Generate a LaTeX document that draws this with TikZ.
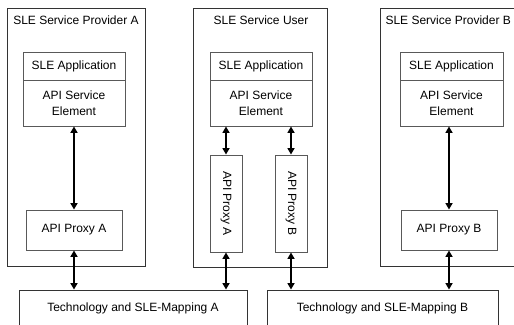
\documentclass[tikz,border=0pt]{standalone}
\usepackage{fontspec}
\setmainfont{Liberation Sans}
\usetikzlibrary{arrows.meta}

\begin{document}
\begin{tikzpicture}[x=1pt,y=-1pt,
  every node/.style={font=\fontsize{12}{16}\selectfont},
  frame/.style={draw=black!80,line width=0.9pt,inner sep=0pt},
  box/.style={draw=black!65,line width=0.9pt,inner sep=0pt,align=center},
  link/.style={line width=1.9pt,{Triangle[length=6.5pt,width=7pt]}-{Triangle[length=6.5pt,width=7pt]}}]
\useasboundingbox (0,0) rectangle (514,324);
\clip (0,0) rectangle (514,324);
% outer frames
\node[frame,minimum width=138,minimum height=258] (provA) at (76,137) {};
\node[frame,minimum width=134,minimum height=259] (user) at (260,137.5) {};
\node[frame,minimum width=140,minimum height=258] (provB) at (450,137) {};
\node (tA) at (76,20) {SLE Service Provider A};
\node (tU) at (261,20) {SLE Service User};
\node[anchor=west] (tB) at (382,20) {SLE Service Provider B};
% applications
\node[box,minimum width=102,minimum height=28] (appA) at (74,66) {SLE Application};
\node[box,minimum width=102,minimum height=46] (aseA) at (74,103) {API Service\\Element};
\node[box,minimum width=102,minimum height=28] (appU) at (261,66) {SLE Application};
\node[box,minimum width=102,minimum height=46] (aseU) at (261,103) {API Service\\Element};
\node[box,minimum width=103,minimum height=28] (appB) at (451.5,66) {SLE Application};
\node[box,minimum width=103,minimum height=46] (aseB) at (451.5,103) {API Service\\Element};
% proxies
\node[box,minimum width=96,minimum height=40] (pxA) at (74,230) {API Proxy A};
\node[box,minimum width=96,minimum height=40] (pxB) at (449,230) {API Proxy B};
\node[box,minimum width=32,minimum height=97] (pxUA) at (226,203.5) {\rotatebox{-90}{API Proxy A}};
\node[box,minimum width=32,minimum height=97] (pxUB) at (291,203.5) {\rotatebox{-90}{API Proxy B}};
% mappings
\node[frame,minimum width=228,minimum height=36] (mapA) at (133,308) {Technology and SLE-Mapping A};
\node[frame,minimum width=231,minimum height=36] (mapB) at (382.5,308) {Technology and SLE-Mapping B};
% links
\draw[link] (aseA) -- (pxA);
\draw[link] (pxB.north |- aseB.south) -- (pxB.north);
\draw[link] (pxUA.north |- aseU.south) -- (pxUA.north);
\draw[link] (pxUB.north |- aseU.south) -- (pxUB.north);
\draw[link] (pxA.south) -- (pxA.south |- mapA.north);
\draw[link] (pxUA.south) -- (pxUA.south |- mapA.north);
\draw[link] (pxUB.south) -- (pxUB.south |- mapB.north);
\draw[link] (pxB.south) -- (pxB.south |- mapB.north);
\end{tikzpicture}
\end{document}
